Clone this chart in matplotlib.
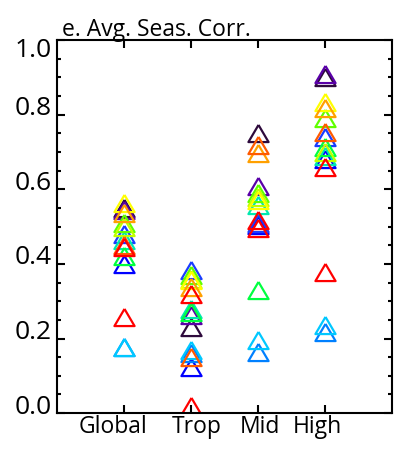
import numpy as np
import matplotlib
matplotlib.use('Agg')
import matplotlib.pyplot as plt
import matplotlib.transforms as mtransforms
from matplotlib.ticker import MultipleLocator

plt.rcParams['font.family'] = ['Open Sans', 'DejaVu Sans']

regions = ['Global', 'Trop', 'Mid', 'High']
yticks = [0.0, 0.2, 0.4, 0.6, 0.8, 1.0]

# one entry per model: colour and avg. seasonal correlation for each region
colors = ['#2e0a3c', '#5a00a8', '#0000ff', '#1a3cff', '#0080ff', '#00c8ff',
          '#00e8b0', '#00ff40', '#60ff00', '#c0ff00', '#ffff00', '#ffa000',
          '#ff5a00', '#ff0000', '#ff0000']
corr_global = [0.55, 0.545, 0.40, 0.48, 0.177, 0.177, 0.464, 0.42, 0.51, 0.50,
               0.563, 0.536, 0.45, 0.445, 0.257]
corr_trop = [0.23, 0.262, 0.124, 0.383, 0.16, 0.169, 0.28, 0.27, 0.37, 0.36,
             0.357, 0.338, 0.15, 0.32, 0.02]
corr_mid = [0.75, 0.61, 0.504, 0.51, 0.164, 0.196, 0.558, 0.33, 0.59, 0.58,
            0.57, 0.697, 0.718, 0.517, 0.496]
corr_high = [0.90, 0.91, 0.68, 0.74, 0.217, 0.236, 0.69, 0.713, 0.79, 0.70,
             0.834, 0.818, 0.754, 0.66, 0.378]

tri = [(0, 0.85), (-1, -0.85), (1, -0.85), (0, 0.85)]

fig = plt.figure(figsize=(4.01, 4.55), dpi=100)
ax = fig.add_axes([0.142, 0.092, 0.836, 0.82])

xpos = np.arange(1, len(regions) + 1)
for i, c in enumerate(colors):
    vals = [corr_global[i], corr_trop[i], corr_mid[i], corr_high[i]]
    ax.plot(xpos, vals, linestyle='none', marker=tri, markersize=14.5,
            markerfacecolor='none', markeredgecolor=c, markeredgewidth=1.6)

ax.set_xlim(0, 5)
ax.set_ylim(0, 1.0)
ax.set_xticks(xpos)
ax.set_xticklabels(regions, fontsize=16.5)
ax.set_yticks(yticks)
ax.set_yticklabels(['%.1f' % v for v in yticks], fontsize=19)
ax.yaxis.set_minor_locator(MultipleLocator(0.05))
ax.tick_params(direction='in', top=True, right=True, width=1.5, length=6)
ax.tick_params(which='minor', direction='in', right=True, width=1.5, length=3)
ax.tick_params(axis='x', pad=1)
ax.tick_params(axis='y', pad=4)
for s in ax.spines.values():
    s.set_linewidth(1.5)

# labels sit a bit off the ticks, as in the original
xshift = [-11, 6, 2, -8]
for lab, dx in zip(ax.get_xticklabels(), xshift):
    lab.set_transform(lab.get_transform() +
                      mtransforms.ScaledTranslation(dx / 100, 0, fig.dpi_scale_trans))
for lab in ax.get_yticklabels()[:-1]:
    lab.set_transform(lab.get_transform() +
                      mtransforms.ScaledTranslation(0, 9 / 100, fig.dpi_scale_trans))
top = ax.get_yticklabels()[-1]
top.set_transform(top.get_transform() +
                  mtransforms.ScaledTranslation(0, -7 / 100, fig.dpi_scale_trans))

ax.text(0.015, 0.995, 'e. Avg. Seas. Corr.', transform=ax.transAxes,
        fontsize=16.5, ha='left', va='bottom')

plt.savefig('out.png', dpi=100)
